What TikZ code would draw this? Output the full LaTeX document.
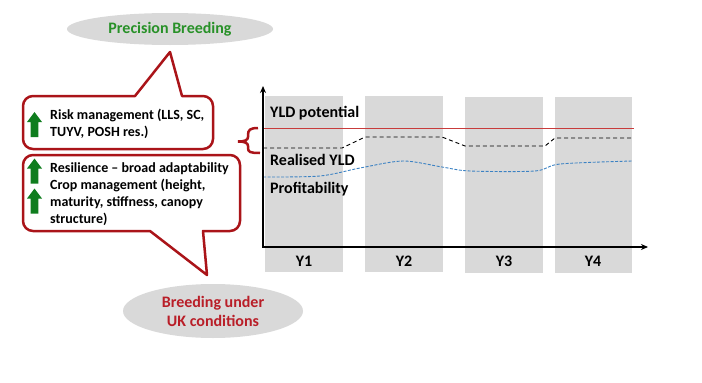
\documentclass[tikz,border=0pt]{standalone}
\usepackage{fontspec}
\setmainfont{Carlito}
\usetikzlibrary{shapes.geometric,arrows.meta}
\definecolor{callred}{RGB}{170,20,25}
\definecolor{ellgray}{RGB}{217,217,217}
\definecolor{bargray}{RGB}{217,217,217}
\definecolor{upgreen}{RGB}{15,125,30}
\definecolor{titlegreen}{RGB}{40,145,40}
\definecolor{titlered}{RGB}{185,30,40}
\definecolor{potred}{RGB}{200,60,60}
\definecolor{profblue}{RGB}{60,130,195}
\tikzset{
  callout/.style={draw=callred, line width=2.5pt, fill=white, line join=round},
  bubble/.style={ellipse, fill=ellgray, inner sep=0pt, align=center, font=\fontsize{16}{19}\selectfont\bfseries},
  ctext/.style={anchor=base west, inner sep=0pt, align=left, font=\fontsize{14}{17}\selectfont\bfseries},
  chartlabel/.style={anchor=base west, inner sep=0pt, font=\fontsize{16}{19}\selectfont\bfseries},
  yearlabel/.style={anchor=base, inner sep=0pt, font=\fontsize{16}{19}\selectfont\bfseries},
  bar/.style={fill=bargray},
  uparr/.pic={\fill[upgreen] (-3.8,12.5) -- (-3.8,-2.5) -- (-7.5,-2.5) -- (0,-12.5) -- (7.5,-2.5) -- (3.8,-2.5) -- (3.8,12.5) -- cycle;}
}
\begin{document}
\begin{tikzpicture}[x=1pt,y=-1pt]
\useasboundingbox (0,0) rectangle (702,383);
% bars
\fill[bar] (265,96) rectangle (343,272);
\fill[bar] (365,96) rectangle (443,272);
\fill[bar] (465,97) rectangle (543,273);
\fill[bar] (555,97) rectangle (632,273);
% lines
\draw[potred, line width=1pt] (263,128) -- (634,128);
\draw[black, line width=0.9pt, dash pattern=on 4pt off 3pt] (263,148) -- (342,148) -- (365,137) -- (442,137) -- (465,146) -- (545,146) -- (555,138) -- (632,138);
\draw[profblue, line width=0.9pt, dash pattern=on 3pt off 1.5pt] plot[smooth, tension=0.5] coordinates {(263,177) (320,176) (360,168) (403,161) (442,167) (470,171) (535,171) (560,164) (632,161)};
% axes
\coordinate (origin) at (263,247);
\coordinate (ytop) at (263,86);
\coordinate (xend) at (648,247);
\draw[line width=2pt, {Stealth[length=7pt,width=6pt]}-{Stealth[length=7pt,width=6pt]}] (ytop) -- (origin) -- (xend);
% chart labels
\node[chartlabel] (pot) at (270,117) {YLD potential};
\node[chartlabel] (real) at (270,165) {Realised YLD};
\node[chartlabel] (prof) at (270,193) {Profitability};
\node[yearlabel] (y1) at (304,266) {Y1};
\node[yearlabel] (y2) at (404,266) {Y2};
\node[yearlabel] (y3) at (504,266) {Y3};
\node[yearlabel] (y4) at (593,266) {Y4};
% brace
\draw[callred, line width=2.5pt] (258,128) .. controls (250,128) and (248,130) .. (248,135) -- (248,137) .. controls (248,140) and (245,141.5) .. (238,141.5) .. controls (245,141.5) and (248,143) .. (248,146) -- (248,148) .. controls (248,152) and (250,153) .. (260,153);
% callout 1
\draw[callout, rounded corners=10pt] (23,122) -- (23,96) -- (110,96) [sharp corners] -- (135,96) -- (170,52) -- (182,96) -- (195,96) [rounded corners=10pt] -- (213,96) -- (213,149) -- (23,149) -- cycle;
% callout 2
\draw[callout, rounded corners=10pt] (23,190) -- (23,155) -- (240,155) -- (240,231) -- (220,231) [sharp corners] -- (203,231) -- (207,275) -- (150,231) -- (130,231) [rounded corners=10pt] -- (23,231) -- cycle;
% arrows
\pic at (34.5,124.5) {uparr};
\pic at (34.5,171) {uparr};
\pic at (34.5,201) {uparr};
% callout texts (base anchor = last line)
\node[ctext] (risk) at (50,136) {Risk management (LLS, SC,\\TUYV, POSH res.)};
\node[ctext] (resil) at (50,223) {Resilience -- broad adaptability\\Crop management (height,\\maturity, stiffness, canopy\\structure)};
% bubbles
\node[bubble, minimum width=206pt, minimum height=32pt, text=titlegreen] (prec) at (170,29) {Precision Breeding};
\node[bubble, minimum width=180pt, minimum height=54pt, text=titlered] (uk) at (213,311) {Breeding under\\UK conditions};
\end{tikzpicture}
\end{document}
